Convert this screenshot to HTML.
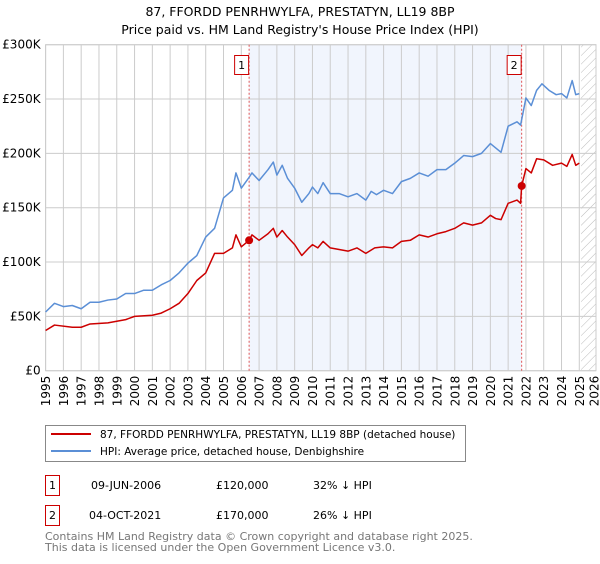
<!DOCTYPE html>
<html><head><meta charset="utf-8"><style>
body{margin:0;background:#fff;font-family:"DejaVu Sans","Liberation Sans",sans-serif;}
svg text{font-family:"DejaVu Sans","Liberation Sans",sans-serif;}
</style></head><body>
<svg id="chart" width="600" height="560" xmlns="http://www.w3.org/2000/svg">
<defs><pattern id="hatch" width="6" height="6" patternUnits="userSpaceOnUse" patternTransform="rotate(45)"><line x1="0" y1="0" x2="0" y2="6" stroke="#bbb" stroke-width="1"/></pattern></defs>
<text x="300" y="16" text-anchor="middle" font-size="12.5">87, FFORDD PENRHWYLFA, PRESTATYN, LL19 8BP</text>
<text x="300" y="34" text-anchor="middle" font-size="12.5">Price paid vs. HM Land Registry's House Price Index (HPI)</text>
<g id="plot"></g>
<g>
<rect x="45.5" y="425.5" width="420" height="36" fill="#fff" stroke="#888"/>
<line x1="51" y1="434" x2="91" y2="434" stroke="#cc0000" stroke-width="2"/>
<text x="100" y="438" font-size="10.5">87, FFORDD PENRHWYLFA, PRESTATYN, LL19 8BP (detached house)</text>
<line x1="51" y1="451" x2="91" y2="451" stroke="#5b8fd6" stroke-width="2"/>
<text x="100" y="455" font-size="10.5">HPI: Average price, detached house, Denbighshire</text>
</g>
<g font-size="11">
<rect x="45.5" y="475.5" width="14" height="20" fill="#fff" stroke="#cc0000"/>
<text x="52.5" y="489" text-anchor="middle">1</text>
<text x="91" y="489">09-JUN-2006</text><text x="216" y="489">£120,000</text><text x="313" y="489">32% ↓ HPI</text>
<rect x="45.5" y="505.5" width="14" height="20" fill="#fff" stroke="#cc0000"/>
<text x="52.5" y="519" text-anchor="middle">2</text>
<text x="89" y="519">04-OCT-2021</text><text x="216" y="519">£170,000</text><text x="313" y="519">26% ↓ HPI</text>
</g>
<g font-size="11" fill="#777">
<text x="45" y="540">Contains HM Land Registry data © Crown copyright and database right 2025.</text>
<text x="45" y="551">This data is licensed under the Open Government Licence v3.0.</text>
</g>
</svg>
<script>
const yTicks=[0,50000,100000,150000,200000,250000,300000];
const yTickLabels=["£0","£50K","£100K","£150K","£200K","£250K","£300K"];
const xYears=[1995,1996,1997,1998,1999,2000,2001,2002,2003,2004,2005,2006,2007,2008,2009,2010,2011,2012,2013,2014,2015,2016,2017,2018,2019,2020,2021,2022,2023,2024,2025,2026];
const hpiT=[1995,1995.5,1996,1996.5,1997,1997.5,1998,1998.5,1999,1999.5,2000,2000.5,2001,2001.5,2002,2002.5,2003,2003.5,2004,2004.5,2005,2005.5,2005.7,2006,2006.4,2006.6,2007,2007.5,2007.8,2008,2008.3,2008.6,2009,2009.4,2009.8,2010,2010.3,2010.6,2011,2011.5,2012,2012.5,2013,2013.3,2013.6,2014,2014.5,2015,2015.5,2016,2016.5,2017,2017.5,2018,2018.5,2019,2019.5,2020,2020.3,2020.6,2021,2021.5,2021.7,2022,2022.3,2022.6,2022.9,2023.3,2023.7,2024,2024.3,2024.6,2024.8,2025];
const hpiV=[54,62,59,60,57,63,63,65,66,71,71,74,74,79,83,90,99,106,123,131,159,166,182,168,177,182,175,185,192,180,189,177,168,155,163,169,163,173,163,163,160,163,157,165,162,166,163,174,177,182,179,185,185,191,198,197,200,209,205,201,225,229,226,251,244,258,264,258,254,255,251,267,254,255];
const ppT=[1995,1995.5,1996.5,1997,1997.5,1998.5,1999.5,2000,2001,2001.5,2002,2002.5,2003,2003.5,2004,2004.5,2005,2005.5,2005.7,2006,2006.44,2006.6,2007,2007.5,2007.8,2008,2008.3,2008.6,2009,2009.4,2009.8,2010,2010.3,2010.6,2011,2012,2012.5,2013,2013.5,2014,2014.5,2015,2015.5,2016,2016.5,2017,2017.5,2018,2018.5,2019,2019.5,2020,2020.3,2020.6,2021,2021.5,2021.7,2021.76,2022,2022.3,2022.6,2023,2023.5,2024,2024.3,2024.6,2024.8,2025];
const ppV=[37,42,40,40,43,44,47,50,51,53,57,62,71,83,90,108,108,113,125,114,120,125,120,126,131,123,129,123,116,106,113,116,113,119,113,110,113,108,113,114,113,119,120,125,123,126,128,131,136,134,136,143,140,139,154,157,154,170,186,182,195,194,189,191,188,199,189,191];
const saleT=[2006.44,2021.76];
const saleV=[120000,170000];
const saleLabels=["1","2"];
const X0=45.6,X1=596,Y0=370.7,Y1=44.7;
const x=t=>X0+(t-1995)*17.79;
const y=v=>Y0-(v/300000)*(Y0-Y1);
const NS="http://www.w3.org/2000/svg";
const g=document.getElementById('plot');
function mk(tag,attrs,parent){const e=document.createElementNS(NS,tag);for(const k in attrs)e.setAttribute(k,attrs[k]);(parent||g).appendChild(e);return e;}
let r=mk('rect',{x:x(saleT[0]),y:Y1,width:x(saleT[1])-x(saleT[0]),height:Y0-Y1,fill:'#eef3fc',opacity:0.8});


let h=mk('rect',{x:x(2025.1),y:Y1,width:X1-x(2025.1),height:Y0-Y1,fill:'url(#hatch)'});


xYears.forEach(yr=>{const xx=x(yr);
 if(xx<=X1+0.5){
 const l=mk('line',{x1:xx,x2:xx,y1:Y1,y2:Y0,stroke:'#ccc','stroke-width':1});
 
 }
 const t=mk('text',{x:0,y:0,'font-size':12,'text-anchor':'end',transform:`translate(${Math.min(xx,594)+4.5},${Y0+5}) rotate(-90)`});
 t.textContent=yr;
 
 
});
yTicks.forEach((v,i)=>{const yy=y(v);
 const l=mk('line',{x1:X0,x2:X1,y1:yy,y2:yy,stroke:'#ccc','stroke-width':1});
 
 
 const t=mk('text',{x:X0-5,y:yy+4,'font-size':12,'text-anchor':'end'});
 t.textContent=yTickLabels[i];
 
 
});
mk('rect',{x:X0,y:Y1,width:X1-X0,height:Y0-Y1,fill:'none',stroke:'#ccc'});
saleT.forEach((t,i)=>{const xx=x(t);
 const l=mk('line',{x1:xx,x2:xx,y1:Y1,y2:Y0,stroke:'#e05555','stroke-dasharray':'2,2','stroke-width':1});
 
 
 const b=mk('rect',{x:xx-14.5,y:55.5,width:14,height:19,fill:'#fff',stroke:'#cc0000'});
 
 
 const tx=mk('text',{x:xx-7.5,y:69,'font-size':11,'text-anchor':'middle'});
 tx.textContent=saleLabels[i];
 
 
});
function line(T,V,color,name){const p=mk('polyline',{points:T.map((t,i)=>x(t)+','+y(V[i]*1000)).join(' '),fill:'none',stroke:color,'stroke-width':1.5,'stroke-linejoin':'round'});
 
 }
line(hpiT,hpiV,'#5b8fd6','hpi-line');
line(ppT,ppV,'#cc0000','price-paid-line');
saleT.forEach((t,i)=>{const c=mk('circle',{cx:x(t),cy:y(saleV[i]),r:4,fill:'#cc0000'});
 
 });
</script>
</body></html>
